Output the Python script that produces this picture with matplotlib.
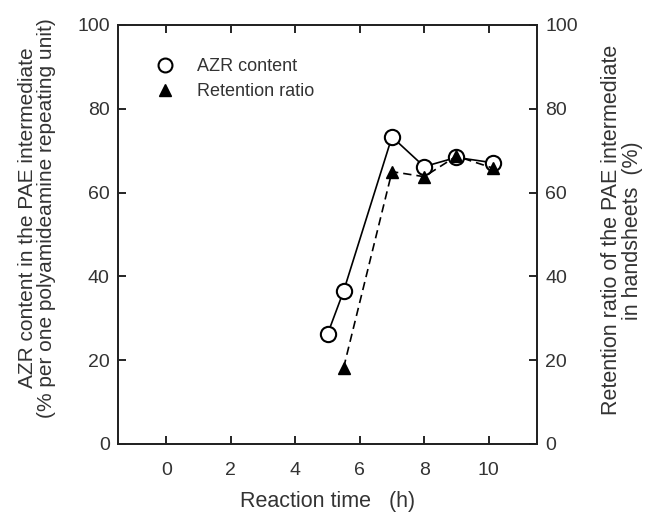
import matplotlib
matplotlib.use('Agg')
from matplotlib import pyplot as plt
from matplotlib.lines import Line2D

plt.rcParams['font.family'] = ['Liberation Sans', 'DejaVu Sans']

# Reaction time (h) and measured values
time_azr = [5.0, 5.5, 7.0, 8.0, 9.0, 10.15]
azr_content = [26.2, 36.5, 73.3, 66.2, 68.4, 67.1]

time_ret = [5.5, 7.0, 8.0, 9.0, 10.15]
retention = [18.2, 65.0, 63.8, 68.7, 65.8]

x_ticks = [0, 2, 4, 6, 8, 10]
y_ticks = [0, 20, 40, 60, 80, 100]

text_col = '#333333'

fig = plt.figure(figsize=(6.49, 5.14), dpi=100)
ax = fig.add_axes([118 / 649, 70 / 514, 419 / 649, 419 / 514])
ax2 = ax.twinx()

ax.plot(time_azr, azr_content, color='black', lw=1.2, marker='o', ms=11,
        mfc='white', mec='black', mew=1.5, zorder=3)
ax2.plot(time_ret, retention, color='black', lw=1.2, ls=(0, (5, 3)), marker='^',
         ms=9, mfc='black', mec='black', zorder=3)

ax.set_xlim(-1.5, 11.5)
ax.set_ylim(0, 100)
ax2.set_ylim(0, 100)
ax.set_xticks(x_ticks)
ax.set_yticks(y_ticks)
ax2.set_yticks(y_ticks)

ax.tick_params(axis='both', direction='in', length=6, width=1.2, labelsize=14,
               labelcolor=text_col, top=True, pad=6)
ax.tick_params(axis='x', pad=13)
ax2.tick_params(axis='y', direction='in', length=6, width=1.2, labelsize=14,
                labelcolor=text_col, pad=6)
for a in (ax, ax2):
    for s in a.spines.values():
        s.set_linewidth(1.3)
        s.set_color('#222222')

ax.set_xlabel('Reaction time   (h)', fontsize=15.5, color=text_col)
ax.xaxis.set_label_coords(0.5, -0.112)
ax.set_ylabel('AZR content in the PAE intermediate\n(% per one polyamideamine repeating unit)',
              fontsize=15, color=text_col, linespacing=1.0)
ax.yaxis.set_label_coords(-0.148, 0.54)
ax2.set_ylabel('Retention ratio of the PAE intermediate\nin handsheets  (%)',
               fontsize=15.5, color=text_col, rotation=90, linespacing=1.0)
ax2.yaxis.set_label_coords(1.152, 0.51)

handles = [Line2D([], [], marker='o', ms=10, mfc='white', mec='black', mew=1.5, ls='none'),
           Line2D([], [], marker='^', ms=8, mfc='black', mec='black', ls='none')]
ax.legend(handles, ['AZR content', 'Retention ratio'], loc='upper left',
          bbox_to_anchor=(0.03, 0.96), frameon=False, fontsize=13,
          labelcolor=text_col, handletextpad=0.8, labelspacing=0.45)

fig.savefig('out.png', dpi=100)
